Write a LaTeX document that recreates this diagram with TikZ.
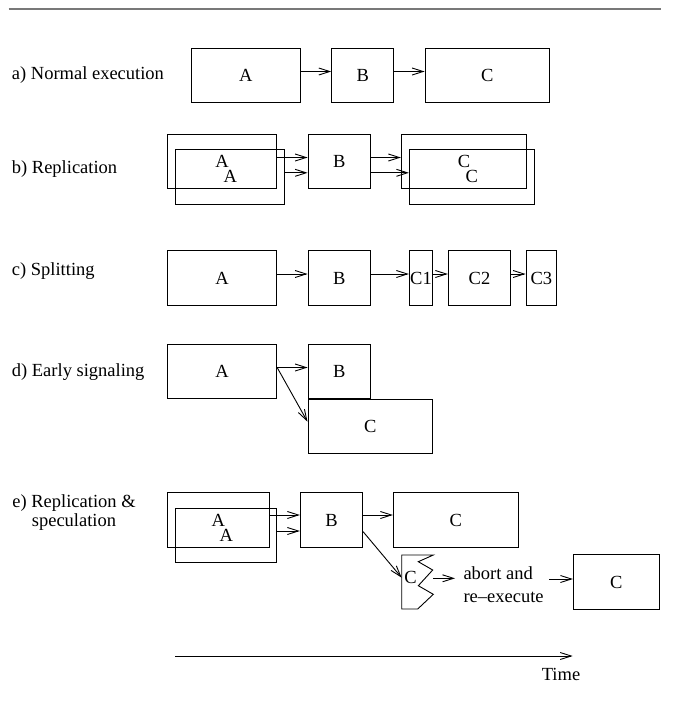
\documentclass[tikz,border=0pt]{standalone}
\usepackage{fontspec}
\setmainfont{Liberation Serif}
\usetikzlibrary{arrows.meta,calc}
\definecolor{rulegray}{RGB}{120,120,120}
\begin{document}
\begin{tikzpicture}[x=1pt,y=-1pt,
  every node/.style={font=\fontsize{18.5}{22}\selectfont},
  task/.style={draw, line width=0.9pt, inner sep=0pt, minimum height=54.5pt},
  caption/.style={anchor=base west, inner sep=0pt},
  arr/.style={line width=0.9pt, -{Straight Barb[length=11pt,width=7pt,line width=0.9pt]}}]
\useasboundingbox (0,0) rectangle (673,702);

% top rule
\coordinate (r0) at (8.6,8.6);
\coordinate (r1) at (661,8.6);
\draw[rulegray, line width=2pt] (r0) -- (r1);

% a) normal execution
\node[caption] (la) at (11.7,79) {a) Normal execution};
\node[task, minimum width=109.3pt] (aA) at (245.7,75.5) {A};
\node[task, minimum width=62pt]    (aB) at (362.7,75.5) {B};
\node[task, minimum width=124.3pt] (aC) at (487.2,75.5) {C};
\draw[arr] ([yshift=4pt]aA.east) -- ([yshift=4pt]aB.west);
\draw[arr] ([yshift=4pt]aB.east) -- ([yshift=4pt]aC.west);

% b) replication
\node[caption] (lb) at (11.7,173.3) {b) Replication};
\node[task, minimum width=109.4pt] (bA1) at (222,161.5) {A};
\node[task, minimum width=109pt]   (bA2) at (230.2,176.8) {A};
\node[task, minimum width=62.3pt]  (bB)  at (339.2,161.5) {B};
\node[task, minimum width=125.4pt] (bC1) at (464,161.5) {C};
\node[task, minimum width=124.7pt] (bC2) at (471.7,176.8) {C};
\draw[arr] ([yshift=4pt]bA1.east) -- ([yshift=4pt]bA1.east -| bB.west);
\draw[arr] ([yshift=4pt]bA2.east) -- ([yshift=4pt]bA2.east -| bB.west);
\draw[arr] ([yshift=4pt]bB.east) -- ([yshift=4pt]bC1.west);
\draw[arr] ([yshift=4pt]bC2.west -| bB.east) -- ([yshift=4pt]bC2.west);

% c) splitting
\node[caption] (lc) at (11.7,275) {c) Splitting};
\node[task, minimum width=109.4pt] (cA)  at (222,278) {A};
\node[task, minimum width=62.3pt]  (cB)  at (339.2,278) {B};
\node[task, minimum width=23.4pt]  (cC1) at (421,278) {C1};
\node[task, minimum width=62.4pt]  (cC2) at (479.5,278) {C2};
\node[task, minimum width=30.7pt]  (cC3) at (541.4,278) {C3};
\draw[arr] ([yshift=4pt]cA.east)  -- ([yshift=4pt]cB.west);
\draw[arr] ([yshift=4pt]cB.east)  -- ([yshift=4pt]cC1.west);
\draw[arr] ([yshift=4pt]cC1.east) -- ([yshift=4pt]cC2.west);
\draw[arr] ([yshift=4pt]cC2.east) -- ([yshift=4pt]cC3.west);

% d) early signaling
\node[caption] (ld) at (11.7,376) {d) Early signaling};
\node[task, minimum width=109.4pt] (dA) at (222,371.5) {A};
\node[task, minimum width=62.3pt]  (dB) at (339.2,371.5) {B};
\node[task, minimum width=124.7pt] (dC) at (370.3,426.3) {C};
\draw[arr] ([yshift=4pt]dA.east) -- ([yshift=4pt]dB.west);
\draw[arr] ([yshift=4pt]dA.east) -- ([yshift=4.6pt]dC.west);

% e) replication & speculation
\node[anchor=base, inner sep=0pt] (le1) at (74,507.5) {e) Replication \&};
\node[anchor=base, inner sep=0pt] (le2) at (74,526.5) {speculation};
\node[task, minimum width=102pt]   (eA1) at (218.3,520) {A};
\node[task, minimum width=101pt, minimum height=54pt] (eA2) at (226.2,535.7) {A};
\node[task, minimum width=62.4pt]  (eB)  at (331.5,520) {B};
\node[task, minimum width=125pt]   (eC)  at (455.8,520) {C};
\draw[arr] ([yshift=5pt]eA1.east) -- ([yshift=5pt]eA1.east -| eB.west);
\draw[arr] ([yshift=4.7pt]eA2.east) -- ([yshift=4.7pt]eA2.east -| eB.west);
\draw[arr] ([yshift=5pt]eB.east) -- ([yshift=5pt]eC.west);

% aborted speculative C with its torn edge
\draw[line width=0.9pt] (401.7,555) -- (433.3,555) -- (418.3,561.7) -- (432.7,570)
  -- (418.3,585.7) -- (433.3,594.3) -- (417.7,609) -- (401.7,609) -- cycle;
\node[inner sep=0pt] (eCx) at (410.5,577) {C};
\coordinate (eCin)  at (401.7,577.7);
\coordinate (eCout) at (433.3,578.3);
\draw[arr] ([yshift=-11.7pt]eB.east) -- (eCin);

\node[caption] (ab1) at (463.3,579) {abort and};
\node[caption] (ab2) at (463.3,602) {re–execute};
\coordinate (abIn)  at (455,578.3);
\coordinate (abOut) at (549.3,579);
\node[task, minimum width=85.7pt] (fC) at (616.2,582) {C};
\draw[arr] (eCout) -- (abIn);
\draw[arr] (abOut) -- (abOut -| fC.west);

% time axis
\coordinate (t0) at (175,656);
\coordinate (t1) at (572.7,656);
\draw[arr] (t0) -- (t1);
\node[inner sep=0pt] (time) at (561,674) {Time};
\end{tikzpicture}
\end{document}
